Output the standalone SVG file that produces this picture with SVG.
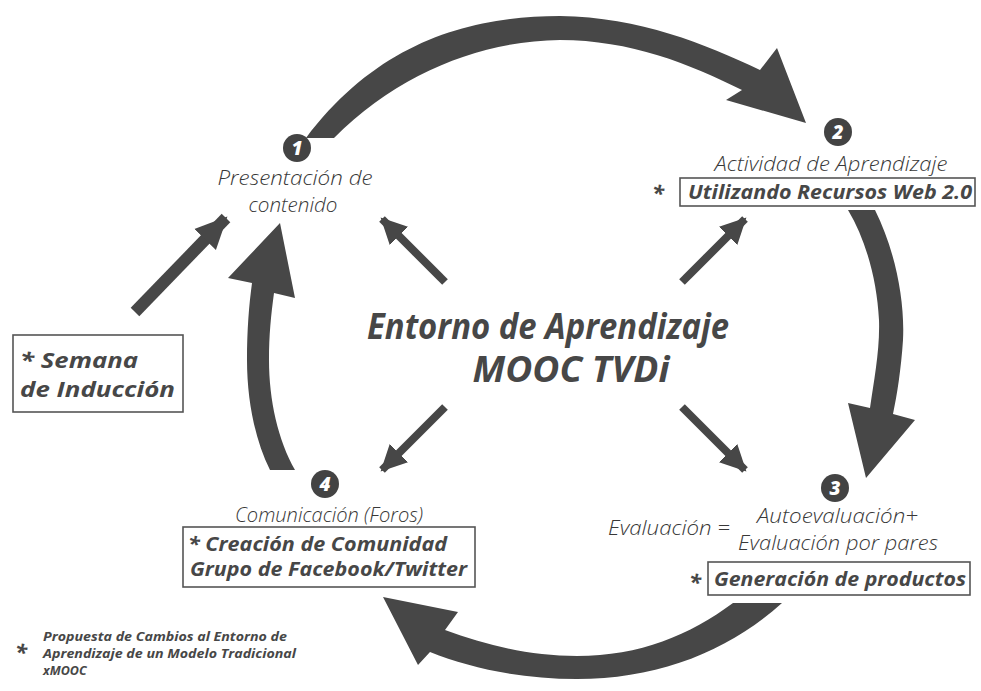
<svg xmlns="http://www.w3.org/2000/svg" width="981" height="691" viewBox="0 0 981 691">
<style>
.lt{font-family:"Open Sans","Liberation Sans",sans-serif;font-style:italic;font-weight:300;fill:#383838;}
.bd{font-family:"Open Sans","Liberation Sans",sans-serif;font-style:italic;font-weight:700;fill:#474747;}
.box{fill:none;stroke:#555;stroke-width:1.6;}
.big{fill:#474747;}
.num{fill:#434343;}
.numt{font-family:"Open Sans","Liberation Sans",sans-serif;font-style:italic;font-weight:800;fill:#fff;font-size:19px;}
.sm{stroke:#474747;stroke-width:8;fill:none;}
</style>
<defs>
<marker id="ah" markerUnits="userSpaceOnUse" markerWidth="28" markerHeight="28" refX="24" refY="14" orient="auto" viewBox="0 0 28 28">
<path d="M0,1 L26,14 L0,27 Z" fill="#474747"/>
</marker>
<marker id="ah2" markerUnits="userSpaceOnUse" markerWidth="34" markerHeight="34" refX="30" refY="17" orient="auto" viewBox="0 0 34 34">
<path d="M0,2 L32,17 L0,32 Z" fill="#474747"/>
</marker>
</defs>
<rect width="981" height="691" fill="#fff"/>

<g id="connectors">
<path class="big" d="M306,138 C378,42 470,16 560,16 C640,17 705,44 760,70 L777,48 L806,123 L726,100 L742,90 C690,64 630,40 560,40 C482,41 400,72 334,138 Z"/>
<path class="big" d="M848,210 L875,210 C895,250 905,300 903,340 C901,370 897,395 893,414 L915,420 L866,478 L848,403 L870,408 C874,380 880,350 879,320 C877,280 866,240 848,210 Z"/>
<path class="big" d="M733,603 L782,603 C730,650 660,679 577,679 C520,679 470,668 430,652 L418,665 L383,597 L458,612 L445,630 C485,645 530,656 577,656 C640,656 690,635 733,603 Z"/>
<path class="big" d="M270,470 C255,440 247,400 247,360 C247,330 249,305 252,283 L228,278 L280,223 L295,298 L274,293 C271,315 269,335 269,360 C269,400 278,440 295,470 Z"/>
<line class="sm" x1="445" y1="282" x2="382" y2="219" marker-end="url(#ah)"/>
<line class="sm" x1="682" y1="282" x2="745" y2="219" marker-end="url(#ah)"/>
<line class="sm" x1="445" y1="407" x2="382" y2="470" marker-end="url(#ah)"/>
<line class="sm" x1="682" y1="407" x2="745" y2="470" marker-end="url(#ah)"/>
<line x1="135" y1="312" x2="226" y2="218" stroke="#474747" stroke-width="12" marker-end="url(#ah2)"/>
</g>

<g id="center">
<text class="bd" x="548" y="339" font-size="35" text-anchor="middle" textLength="362" lengthAdjust="spacingAndGlyphs">Entorno de Aprendizaje</text>
<text class="bd" x="571" y="382" font-size="35" text-anchor="middle" textLength="197" lengthAdjust="spacingAndGlyphs">MOOC TVDi</text>
</g>

<g id="node1">
<circle class="num" cx="297" cy="148" r="14"/>
<text class="numt" x="297" y="155" text-anchor="middle">1</text>
<text class="lt" x="295" y="185" font-size="20" text-anchor="middle" textLength="155" lengthAdjust="spacingAndGlyphs">Presentación de</text>
<text class="lt" x="293" y="212" font-size="20" text-anchor="middle" textLength="89" lengthAdjust="spacingAndGlyphs">contenido</text>
</g>

<g id="node2">
<circle class="num" cx="838" cy="132" r="14"/>
<text class="numt" x="838" y="139" text-anchor="middle">2</text>
<text class="lt" x="831" y="171" font-size="20" text-anchor="middle" textLength="233" lengthAdjust="spacingAndGlyphs">Actividad de Aprendizaje</text>
<text class="bd" x="658" y="201" font-size="22" text-anchor="middle">*</text>
<rect class="box" x="680" y="178" width="295" height="28"/>
<text class="bd" x="688" y="199" font-size="20" textLength="284" lengthAdjust="spacingAndGlyphs">Utilizando Recursos Web 2.0</text>
</g>

<g id="node3">
<circle class="num" cx="835" cy="488" r="14"/>
<text class="numt" x="835" y="495" text-anchor="middle">3</text>
<text class="lt" x="608" y="535" font-size="20" textLength="122" lengthAdjust="spacingAndGlyphs">Evaluación =</text>
<text class="lt" x="757" y="523" font-size="20" textLength="161" lengthAdjust="spacingAndGlyphs">Autoevaluación+</text>
<text class="lt" x="738" y="550" font-size="20" textLength="200" lengthAdjust="spacingAndGlyphs">Evaluación por pares</text>
<text class="bd" x="695" y="590" font-size="22" text-anchor="middle">*</text>
<rect class="box" x="708" y="562" width="262" height="33"/>
<text class="bd" x="714" y="586" font-size="20" textLength="252" lengthAdjust="spacingAndGlyphs">Generación de productos</text>
</g>

<g id="node4">
<circle class="num" cx="325" cy="484" r="14"/>
<text class="numt" x="325" y="491" text-anchor="middle">4</text>
<text class="lt" x="235" y="522" font-size="20" textLength="188" lengthAdjust="spacingAndGlyphs">Comunicación (Foros)</text>
<rect class="box" x="183" y="527" width="292" height="60"/>
<text class="bd" x="188" y="551" font-size="20" textLength="259" lengthAdjust="spacingAndGlyphs">* Creación de Comunidad</text>
<text class="bd" x="190" y="576" font-size="20" textLength="277" lengthAdjust="spacingAndGlyphs">Grupo de Facebook/Twitter</text>
</g>

<g id="induccion">
<rect class="box" x="13" y="335" width="170" height="77"/>
<text class="bd" x="20" y="368" font-size="22" textLength="118" lengthAdjust="spacingAndGlyphs">* Semana</text>
<text class="bd" x="20" y="397" font-size="22" textLength="155" lengthAdjust="spacingAndGlyphs">de Inducción</text>
</g>

<g id="legend">
<text class="bd" x="21" y="660" font-size="22" text-anchor="middle">*</text>
<text class="bd" x="43" y="641" font-size="12.5" textLength="244" lengthAdjust="spacingAndGlyphs">Propuesta de Cambios al Entorno de</text>
<text class="bd" x="43" y="658" font-size="12.5" textLength="253" lengthAdjust="spacingAndGlyphs">Aprendizaje de un Modelo Tradicional</text>
<text class="bd" x="43" y="675" font-size="12.5">xMOOC</text>
</g>
</svg>
